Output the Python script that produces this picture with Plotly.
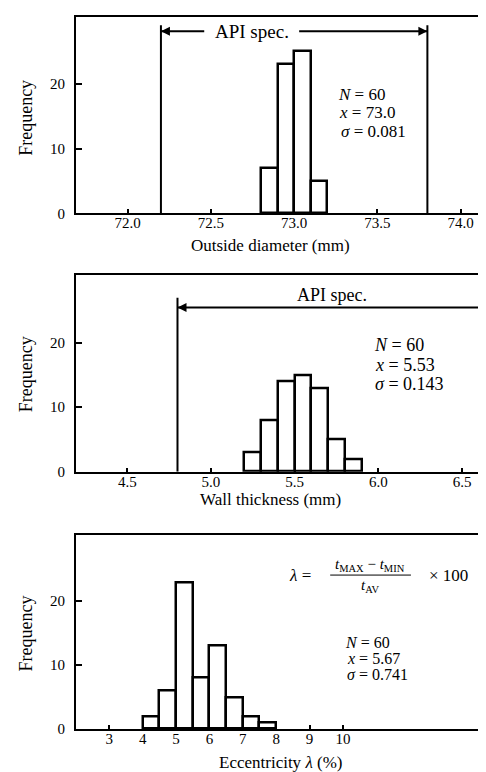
import plotly.graph_objects as go

# ---------------- data ----------------
od_bin_left = [72.8, 72.9, 73.0, 73.1]
od_counts = [7, 23, 25, 5]
od_bin_width = 0.1
od_spec = [72.2, 73.8]
od_ticks = [72.0, 72.5, 73.0, 73.5, 74.0]
od_ticktext = ["72.0", "72.5", "73.0", "73.5", "74.0"]
od_stats = ["<i>N</i> = 60", "<i>x</i> = 73.0", "<i>σ</i> = 0.081"]

wt_bin_left = [5.2, 5.3, 5.4, 5.5, 5.6, 5.7, 5.8]
wt_counts = [3, 8, 14, 15, 13, 5, 2]
wt_bin_width = 0.1
wt_spec_min = 4.8
wt_ticks = [4.5, 5.0, 5.5, 6.0, 6.5]
wt_ticktext = ["4.5", "5.0", "5.5", "6.0", "6.5"]
wt_stats = ["<i>N</i> = 60", "<i>x</i> = 5.53", "<i>σ</i> = 0.143"]

ec_bin_left = [4.0, 4.5, 5.0, 5.5, 6.0, 6.5, 7.0, 7.5]
ec_counts = [2, 6, 23, 8, 13, 5, 2, 1]
ec_bin_width = 0.5
ec_ticks = [3, 4, 5, 6, 7, 8, 9, 10]
ec_stats = ["<i>N</i> = 60", "<i>x</i> = 5.67", "<i>σ</i> = 0.741"]

freq_ticks = [0, 10, 20]

# ---------------- layout geometry ----------------
W, H = 486, 772
FONT = "Liberation Serif"


def py(px):
    return 1 - px / H


x_dom = [68 / W, 1.0]
panels = [
    dict(top=9, bottom=207.5, xr=[71.69, 74.2], yr=[0, 30.3]),
    dict(top=270, bottom=468.5, xr=[4.194, 6.69], yr=[0, 30.5]),
    dict(top=533, bottom=728.5, xr=[2.0, 14.53], yr=[0, 30.3]),
]

fig = go.Figure()

datasets = [
    (od_bin_left, od_counts, od_bin_width),
    (wt_bin_left, wt_counts, wt_bin_width),
    (ec_bin_left, ec_counts, ec_bin_width),
]
for i, (left, cnt, w) in enumerate(datasets):
    sfx = "" if i == 0 else str(i + 1)
    fig.add_trace(go.Bar(
        x=[l + w / 2 for l in left], y=cnt, width=w,
        marker=dict(color="white", line=dict(color="black", width=2.5)),
        xaxis="x" + sfx, yaxis="y" + sfx, showlegend=False,
    ))

xticks = [(od_ticks, od_ticktext), (wt_ticks, wt_ticktext),
          (ec_ticks, [str(t) for t in ec_ticks])]
layout = dict(
    width=W, height=H, margin=dict(l=0, r=0, t=0, b=0),
    paper_bgcolor="white", plot_bgcolor="white",
    font=dict(family=FONT, color="black", size=15),
    bargap=0, showlegend=False,
)
for i, p in enumerate(panels):
    sfx = "" if i == 0 else str(i + 1)
    layout["xaxis" + sfx] = dict(
        domain=x_dom, range=p["xr"], anchor="y" + sfx,
        showline=True, linecolor="black", linewidth=2, mirror=True,
        ticks="inside", ticklen=4, tickwidth=1.5, tickcolor="black",
        tickvals=xticks[i][0], ticktext=xticks[i][1],
        showgrid=False, zeroline=False, fixedrange=True,
        tickfont=dict(family=FONT, size=15), ticklabelstandoff=-5,
    )
    layout["yaxis" + sfx] = dict(
        domain=[py(p["bottom"]), py(p["top"])], range=p["yr"],
        anchor="x" + sfx,
        showline=True, linecolor="black", linewidth=2,
        ticks="inside", ticklen=6, tickwidth=1.5, tickcolor="black",
        tickvals=freq_ticks, showgrid=False, zeroline=False,
        fixedrange=True, tickfont=dict(family=FONT, size=15),
        ticklabelstandoff=6,
    )
fig.update_layout(**layout)

ann = []
shapes = []

# axis titles
xtitles = [("Outside diameter (mm)", 240), ("Wall thickness (mm)", 497),
           ("Eccentricity <i>λ</i> (%)", 762)]
xt_cx = [262, 262, 272]
for (t, y), cx in zip(xtitles, xt_cx):
    ann.append(dict(text=t, x=cx / W, y=py(y), xref="paper", yref="paper",
                    xanchor="center", yanchor="middle",
                    showarrow=False, font=dict(size=17)))
for cy in [111, 370, 632]:
    ann.append(dict(text="Frequency", x=18 / W, y=py(cy), xref="paper",
                    yref="paper", xanchor="center", yanchor="middle",
                    showarrow=False, textangle=-90, font=dict(size=18)))

LINE = dict(color="black", width=2)

# ---- top panel: API spec ----
for xv in od_spec:
    shapes.append(dict(type="line", xref="x", yref="y", x0=xv, x1=xv,
                       y0=0, y1=29.0, line=LINE))
shapes.append(dict(type="line", xref="x", yref="y", x0=od_spec[0],
                   x1=72.46, y0=28.1, y1=28.1, line=LINE))
shapes.append(dict(type="line", xref="x", yref="y", x0=73.03,
                   x1=od_spec[1], y0=28.1, y1=28.1, line=LINE))
fig.add_trace(go.Scatter(
    x=od_spec, y=[28.1, 28.1], mode="markers", xaxis="x", yaxis="y",
    marker=dict(symbol=["arrow-left", "arrow-right"], size=9, color="black"),
    showlegend=False, hoverinfo="skip"))
ann.append(dict(text="API spec.", x=72.745, y=28.1, xref="x", yref="y",
                xanchor="center", yanchor="middle",
                showarrow=False, font=dict(size=19)))
for s, yv, dx in zip(od_stats, [18.4, 15.5, 12.6], [0, 0.01, 0.02]):
    ann.append(dict(text=s, x=73.25 + dx, y=yv, xref="x", yref="y",
                    xanchor="left", yanchor="middle",
                    showarrow=False, font=dict(size=17)))

# ---- middle panel: API spec ----
shapes.append(dict(type="line", xref="x2", yref="y2", x0=wt_spec_min,
                   x1=wt_spec_min, y0=0, y1=27.0, line=LINE))
shapes.append(dict(type="line", xref="x2", yref="y2", x0=wt_spec_min,
                   x1=6.69, y0=25.5, y1=25.5, line=LINE))
fig.add_trace(go.Scatter(
    x=[wt_spec_min], y=[25.5], mode="markers", xaxis="x2", yaxis="y2",
    marker=dict(symbol="arrow-left", size=9, color="black"),
    showlegend=False, hoverinfo="skip"))
ann.append(dict(text="API spec.", x=5.72, y=27.5, xref="x2", yref="y2",
                xanchor="center", yanchor="middle",
                showarrow=False, font=dict(size=18)))
for s, yv, dx in zip(wt_stats, [19.7, 16.6, 13.6], [0, 0.005, 0.005]):
    ann.append(dict(text=s, x=5.96 + dx, y=yv, xref="x2", yref="y2",
                    xanchor="left", yanchor="middle",
                    showarrow=False, font=dict(size=18)))

# ---- bottom panel: formula and stats ----
ann.append(dict(text="<i>λ</i> =", x=8.72, y=24.1, xref="x3", yref="y3",
                xanchor="center", yanchor="middle",
                showarrow=False, font=dict(size=17)))
ann.append(dict(text="<i>t</i><sub>MAX</sub> − <i>t</i><sub>MIN</sub>",
                x=10.81, y=25.6, xref="x3", yref="y3", showarrow=False,
                xanchor="center", yanchor="middle", font=dict(size=15)))
shapes.append(dict(type="line", xref="x3", yref="y3", x0=9.62, x1=12.04,
                   y0=24.1, y1=24.1, line=dict(color="black", width=1)))
ann.append(dict(text="<i>t</i><sub>AV</sub>", x=10.81, y=22.4, xref="x3",
                yref="y3", xanchor="center", yanchor="middle",
                showarrow=False, font=dict(size=15)))
ann.append(dict(text="× 100", x=13.18, y=24.1, xref="x3", yref="y3",
                xanchor="center", yanchor="middle",
                showarrow=False, font=dict(size=17)))
for s, yv, dx in zip(ec_stats, [13.6, 11.05, 8.5], [0, 0.05, 0.05]):
    ann.append(dict(text=s, x=10.0 + dx, y=yv, xref="x3", yref="y3",
                    xanchor="left", yanchor="middle",
                    showarrow=False, font=dict(size=16)))

fig.update_layout(annotations=ann, shapes=shapes)
fig.write_html("out.html")
